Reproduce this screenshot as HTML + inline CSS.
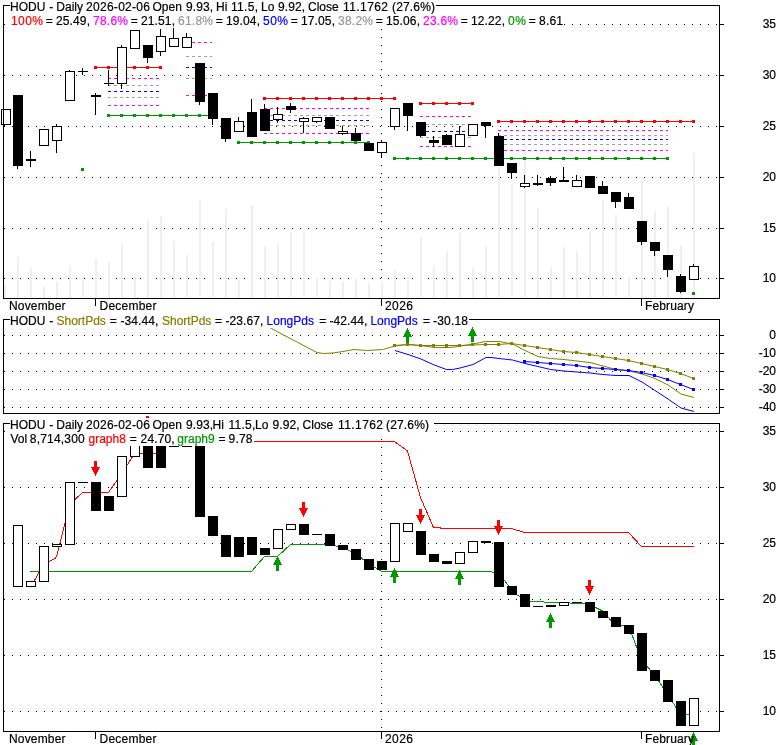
<!DOCTYPE html>
<html><head><meta charset="utf-8"><title>HODU chart</title>
<style>html,body{margin:0;padding:0;background:#fff;}svg{display:block;}text{font-family:"Liberation Sans",Arial,sans-serif;font-size:12px;stroke-width:0.2px;}</style>
</head><body>
<svg width="780" height="745" viewBox="0 0 780 745" shape-rendering="crispEdges">
<rect x="0" y="0" width="780" height="745" fill="#fff"/>
<g id="top">
<line x1="4" y1="24.5" x2="719" y2="24.5" stroke="#000" stroke-dasharray="1 7"/>
<rect x="720" y="24" width="4" height="1" fill="#000"/>
<line x1="4" y1="75.5" x2="719" y2="75.5" stroke="#000" stroke-dasharray="1 7"/>
<rect x="720" y="75" width="4" height="1" fill="#000"/>
<line x1="4" y1="126.5" x2="719" y2="126.5" stroke="#000" stroke-dasharray="1 7"/>
<rect x="720" y="126" width="4" height="1" fill="#000"/>
<line x1="4" y1="177.5" x2="719" y2="177.5" stroke="#000" stroke-dasharray="1 7"/>
<rect x="720" y="177" width="4" height="1" fill="#000"/>
<line x1="4" y1="228.5" x2="719" y2="228.5" stroke="#000" stroke-dasharray="1 7"/>
<rect x="720" y="228" width="4" height="1" fill="#000"/>
<line x1="4" y1="278.5" x2="719" y2="278.5" stroke="#000" stroke-dasharray="1 7"/>
<rect x="720" y="278" width="4" height="1" fill="#000"/>
<line x1="381.5" y1="5" x2="381.5" y2="298" stroke="#000" stroke-dasharray="1 7"/>
<rect x="4" y="285" width="2" height="13" fill="#efefef"/>
<rect x="17" y="257" width="2" height="41" fill="#efefef"/>
<rect x="30" y="268" width="2" height="30" fill="#efefef"/>
<rect x="43" y="286" width="2" height="12" fill="#efefef"/>
<rect x="56" y="282" width="2" height="16" fill="#efefef"/>
<rect x="69" y="266" width="2" height="32" fill="#efefef"/>
<rect x="82" y="277" width="2" height="21" fill="#efefef"/>
<rect x="95" y="259" width="2" height="39" fill="#efefef"/>
<rect x="108" y="262" width="2" height="36" fill="#efefef"/>
<rect x="121" y="244" width="2" height="54" fill="#efefef"/>
<rect x="134" y="273" width="2" height="25" fill="#efefef"/>
<rect x="147" y="219" width="2" height="79" fill="#efefef"/>
<rect x="160" y="216" width="2" height="82" fill="#efefef"/>
<rect x="173" y="241" width="2" height="57" fill="#efefef"/>
<rect x="186" y="255" width="2" height="43" fill="#efefef"/>
<rect x="199" y="200" width="2" height="98" fill="#efefef"/>
<rect x="212" y="242" width="2" height="56" fill="#efefef"/>
<rect x="225" y="209" width="2" height="89" fill="#efefef"/>
<rect x="238" y="280" width="2" height="18" fill="#efefef"/>
<rect x="251" y="205" width="2" height="93" fill="#efefef"/>
<rect x="264" y="246" width="2" height="52" fill="#efefef"/>
<rect x="277" y="244" width="2" height="54" fill="#efefef"/>
<rect x="290" y="232" width="2" height="66" fill="#efefef"/>
<rect x="303" y="232" width="2" height="66" fill="#efefef"/>
<rect x="316" y="278" width="2" height="20" fill="#efefef"/>
<rect x="329" y="281" width="2" height="17" fill="#efefef"/>
<rect x="342" y="282" width="2" height="16" fill="#efefef"/>
<rect x="355" y="278" width="2" height="20" fill="#efefef"/>
<rect x="368" y="283" width="2" height="15" fill="#efefef"/>
<rect x="381" y="282" width="2" height="16" fill="#efefef"/>
<rect x="394" y="270" width="2" height="28" fill="#efefef"/>
<rect x="407" y="276" width="2" height="22" fill="#efefef"/>
<rect x="420" y="237" width="2" height="61" fill="#efefef"/>
<rect x="433" y="266" width="2" height="32" fill="#efefef"/>
<rect x="446" y="251" width="2" height="47" fill="#efefef"/>
<rect x="459" y="233" width="2" height="65" fill="#efefef"/>
<rect x="472" y="268" width="2" height="30" fill="#efefef"/>
<rect x="485" y="245" width="2" height="53" fill="#efefef"/>
<rect x="498" y="132" width="2" height="166" fill="#efefef"/>
<rect x="511" y="184" width="2" height="114" fill="#efefef"/>
<rect x="524" y="146" width="2" height="152" fill="#efefef"/>
<rect x="537" y="208" width="2" height="90" fill="#efefef"/>
<rect x="550" y="267" width="2" height="31" fill="#efefef"/>
<rect x="563" y="247" width="2" height="51" fill="#efefef"/>
<rect x="576" y="251" width="2" height="47" fill="#efefef"/>
<rect x="589" y="232" width="2" height="66" fill="#efefef"/>
<rect x="602" y="200" width="2" height="98" fill="#efefef"/>
<rect x="615" y="215" width="2" height="83" fill="#efefef"/>
<rect x="628" y="277" width="2" height="21" fill="#efefef"/>
<rect x="641" y="180" width="2" height="118" fill="#efefef"/>
<rect x="654" y="211" width="2" height="87" fill="#efefef"/>
<rect x="667" y="206" width="2" height="92" fill="#efefef"/>
<rect x="680" y="245" width="2" height="53" fill="#efefef"/>
<rect x="693" y="153" width="2" height="145" fill="#efefef"/>
<line x1="95" y1="67.5" x2="161" y2="67.5" stroke="#ff0000"/>
<rect x="94" y="66" width="3" height="3" fill="#ff0000"/>
<rect x="107" y="66" width="3" height="3" fill="#ff0000"/>
<rect x="120" y="66" width="3" height="3" fill="#ff0000"/>
<rect x="133" y="66" width="3" height="3" fill="#ff0000"/>
<rect x="146" y="66" width="3" height="3" fill="#ff0000"/>
<rect x="159" y="66" width="3" height="3" fill="#ff0000"/>
<line x1="108" y1="115.5" x2="213" y2="115.5" stroke="#009900"/>
<rect x="107" y="114" width="3" height="3" fill="#009900"/>
<rect x="120" y="114" width="3" height="3" fill="#009900"/>
<rect x="133" y="114" width="3" height="3" fill="#009900"/>
<rect x="146" y="114" width="3" height="3" fill="#009900"/>
<rect x="159" y="114" width="3" height="3" fill="#009900"/>
<rect x="172" y="114" width="3" height="3" fill="#009900"/>
<rect x="185" y="114" width="3" height="3" fill="#009900"/>
<rect x="198" y="114" width="3" height="3" fill="#009900"/>
<rect x="211" y="114" width="3" height="3" fill="#009900"/>
<line x1="108" y1="78.5" x2="160" y2="78.5" stroke="#ff00ff" stroke-dasharray="3 3" stroke-dashoffset="0"/>
<line x1="108" y1="85.5" x2="160" y2="85.5" stroke="#a0a0a0" stroke-dasharray="3 3" stroke-dashoffset="0"/>
<line x1="108" y1="91.5" x2="160" y2="91.5" stroke="#0000ff" stroke-dasharray="3 3" stroke-dashoffset="0"/>
<line x1="108" y1="97.5" x2="160" y2="97.5" stroke="#a0a0a0" stroke-dasharray="3 3" stroke-dashoffset="0"/>
<line x1="108" y1="105.5" x2="160" y2="105.5" stroke="#ff00ff" stroke-dasharray="3 3" stroke-dashoffset="0"/>
<line x1="186" y1="42.5" x2="212" y2="42.5" stroke="#ff00ff" stroke-dasharray="3 3" stroke-dashoffset="0"/>
<line x1="186" y1="56.5" x2="212" y2="56.5" stroke="#a0a0a0" stroke-dasharray="3 3" stroke-dashoffset="0"/>
<line x1="186" y1="67.5" x2="212" y2="67.5" stroke="#0000ff" stroke-dasharray="3 3" stroke-dashoffset="0"/>
<line x1="186" y1="78.5" x2="212" y2="78.5" stroke="#a0a0a0" stroke-dasharray="3 3" stroke-dashoffset="0"/>
<line x1="186" y1="95.5" x2="212" y2="95.5" stroke="#ff00ff" stroke-dasharray="3 3" stroke-dashoffset="0"/>
<line x1="264" y1="98.5" x2="395" y2="98.5" stroke="#ff0000"/>
<rect x="263" y="97" width="3" height="3" fill="#ff0000"/>
<rect x="276" y="97" width="3" height="3" fill="#ff0000"/>
<rect x="289" y="97" width="3" height="3" fill="#ff0000"/>
<rect x="302" y="97" width="3" height="3" fill="#ff0000"/>
<rect x="315" y="97" width="3" height="3" fill="#ff0000"/>
<rect x="328" y="97" width="3" height="3" fill="#ff0000"/>
<rect x="341" y="97" width="3" height="3" fill="#ff0000"/>
<rect x="354" y="97" width="3" height="3" fill="#ff0000"/>
<rect x="367" y="97" width="3" height="3" fill="#ff0000"/>
<rect x="380" y="97" width="3" height="3" fill="#ff0000"/>
<rect x="393" y="97" width="3" height="3" fill="#ff0000"/>
<line x1="238" y1="142.5" x2="369" y2="142.5" stroke="#009900"/>
<rect x="237" y="141" width="3" height="3" fill="#009900"/>
<rect x="250" y="141" width="3" height="3" fill="#009900"/>
<rect x="263" y="141" width="3" height="3" fill="#009900"/>
<rect x="276" y="141" width="3" height="3" fill="#009900"/>
<rect x="289" y="141" width="3" height="3" fill="#009900"/>
<rect x="302" y="141" width="3" height="3" fill="#009900"/>
<rect x="315" y="141" width="3" height="3" fill="#009900"/>
<rect x="328" y="141" width="3" height="3" fill="#009900"/>
<rect x="341" y="141" width="3" height="3" fill="#009900"/>
<rect x="354" y="141" width="3" height="3" fill="#009900"/>
<rect x="367" y="141" width="3" height="3" fill="#009900"/>
<line x1="264" y1="108.5" x2="369" y2="108.5" stroke="#ff00ff" stroke-dasharray="3 3" stroke-dashoffset="0"/>
<line x1="264" y1="115.5" x2="369" y2="115.5" stroke="#a0a0a0" stroke-dasharray="3 3" stroke-dashoffset="0"/>
<line x1="264" y1="120.5" x2="369" y2="120.5" stroke="#0000ff" stroke-dasharray="3 3" stroke-dashoffset="0"/>
<line x1="264" y1="125.5" x2="369" y2="125.5" stroke="#a0a0a0" stroke-dasharray="3 3" stroke-dashoffset="0"/>
<line x1="264" y1="133.5" x2="369" y2="133.5" stroke="#ff00ff" stroke-dasharray="3 3" stroke-dashoffset="0"/>
<line x1="420" y1="103.5" x2="473" y2="103.5" stroke="#ff0000"/>
<rect x="419" y="102" width="3" height="3" fill="#ff0000"/>
<rect x="432" y="102" width="3" height="3" fill="#ff0000"/>
<rect x="445" y="102" width="3" height="3" fill="#ff0000"/>
<rect x="458" y="102" width="3" height="3" fill="#ff0000"/>
<rect x="471" y="102" width="3" height="3" fill="#ff0000"/>
<line x1="394" y1="158.5" x2="668" y2="158.5" stroke="#009900"/>
<rect x="393" y="157" width="3" height="3" fill="#009900"/>
<rect x="406" y="157" width="3" height="3" fill="#009900"/>
<rect x="419" y="157" width="3" height="3" fill="#009900"/>
<rect x="432" y="157" width="3" height="3" fill="#009900"/>
<rect x="445" y="157" width="3" height="3" fill="#009900"/>
<rect x="458" y="157" width="3" height="3" fill="#009900"/>
<rect x="471" y="157" width="3" height="3" fill="#009900"/>
<rect x="484" y="157" width="3" height="3" fill="#009900"/>
<rect x="497" y="157" width="3" height="3" fill="#009900"/>
<rect x="510" y="157" width="3" height="3" fill="#009900"/>
<rect x="523" y="157" width="3" height="3" fill="#009900"/>
<rect x="536" y="157" width="3" height="3" fill="#009900"/>
<rect x="549" y="157" width="3" height="3" fill="#009900"/>
<rect x="562" y="157" width="3" height="3" fill="#009900"/>
<rect x="575" y="157" width="3" height="3" fill="#009900"/>
<rect x="588" y="157" width="3" height="3" fill="#009900"/>
<rect x="601" y="157" width="3" height="3" fill="#009900"/>
<rect x="614" y="157" width="3" height="3" fill="#009900"/>
<rect x="627" y="157" width="3" height="3" fill="#009900"/>
<rect x="640" y="157" width="3" height="3" fill="#009900"/>
<rect x="653" y="157" width="3" height="3" fill="#009900"/>
<rect x="666" y="157" width="3" height="3" fill="#009900"/>
<line x1="420" y1="116.5" x2="472" y2="116.5" stroke="#ff00ff" stroke-dasharray="3 3" stroke-dashoffset="0"/>
<line x1="420" y1="124.5" x2="472" y2="124.5" stroke="#a0a0a0" stroke-dasharray="3 3" stroke-dashoffset="0"/>
<line x1="420" y1="131.5" x2="472" y2="131.5" stroke="#0000ff" stroke-dasharray="3 3" stroke-dashoffset="0"/>
<line x1="420" y1="137.5" x2="472" y2="137.5" stroke="#a0a0a0" stroke-dasharray="3 3" stroke-dashoffset="0"/>
<line x1="420" y1="146.5" x2="472" y2="146.5" stroke="#ff00ff" stroke-dasharray="3 3" stroke-dashoffset="0"/>
<line x1="498" y1="121.5" x2="694" y2="121.5" stroke="#ff0000"/>
<rect x="497" y="120" width="3" height="3" fill="#ff0000"/>
<rect x="510" y="120" width="3" height="3" fill="#ff0000"/>
<rect x="523" y="120" width="3" height="3" fill="#ff0000"/>
<rect x="536" y="120" width="3" height="3" fill="#ff0000"/>
<rect x="549" y="120" width="3" height="3" fill="#ff0000"/>
<rect x="562" y="120" width="3" height="3" fill="#ff0000"/>
<rect x="575" y="120" width="3" height="3" fill="#ff0000"/>
<rect x="588" y="120" width="3" height="3" fill="#ff0000"/>
<rect x="601" y="120" width="3" height="3" fill="#ff0000"/>
<rect x="614" y="120" width="3" height="3" fill="#ff0000"/>
<rect x="627" y="120" width="3" height="3" fill="#ff0000"/>
<rect x="640" y="120" width="3" height="3" fill="#ff0000"/>
<rect x="653" y="120" width="3" height="3" fill="#ff0000"/>
<rect x="666" y="120" width="3" height="3" fill="#ff0000"/>
<rect x="679" y="120" width="3" height="3" fill="#ff0000"/>
<rect x="692" y="120" width="3" height="3" fill="#ff0000"/>
<line x1="498" y1="130.5" x2="668" y2="130.5" stroke="#ff00ff" stroke-dasharray="3 3" stroke-dashoffset="0"/>
<line x1="498" y1="135.5" x2="668" y2="135.5" stroke="#a0a0a0" stroke-dasharray="3 3" stroke-dashoffset="0"/>
<line x1="498" y1="139.5" x2="668" y2="139.5" stroke="#0000ff" stroke-dasharray="3 3" stroke-dashoffset="0"/>
<line x1="498" y1="144.5" x2="668" y2="144.5" stroke="#a0a0a0" stroke-dasharray="3 3" stroke-dashoffset="0"/>
<line x1="498" y1="150.5" x2="668" y2="150.5" stroke="#ff00ff" stroke-dasharray="3 3" stroke-dashoffset="0"/>
<rect x="81" y="168" width="3" height="3" fill="#009900"/>
<rect x="692" y="292" width="3" height="3" fill="#009900"/>
<rect x="4" y="125" width="1" height="2" fill="#000"/>
<rect x="1.5" y="109.5" width="9" height="15" fill="#fff" stroke="#000"/>
<rect x="17" y="166" width="1" height="3" fill="#000"/>
<rect x="13" y="95" width="10" height="71" fill="#000"/>
<rect x="30" y="151" width="1" height="8" fill="#000"/>
<rect x="30" y="161" width="1" height="6" fill="#000"/>
<rect x="26" y="159" width="10" height="2" fill="#000"/>
<rect x="39.5" y="129.5" width="9" height="16" fill="#fff" stroke="#000"/>
<rect x="56" y="124" width="1" height="2" fill="#000"/>
<rect x="56" y="141" width="1" height="12" fill="#000"/>
<rect x="52.5" y="126.5" width="9" height="14" fill="#fff" stroke="#000"/>
<rect x="69" y="70" width="1" height="1" fill="#000"/>
<rect x="65.5" y="71.5" width="9" height="29" fill="#fff" stroke="#000"/>
<rect x="82" y="68" width="1" height="3" fill="#000"/>
<rect x="82" y="72" width="1" height="3" fill="#000"/>
<rect x="78" y="71" width="10" height="1" fill="#000"/>
<rect x="95" y="93" width="1" height="2" fill="#000"/>
<rect x="95" y="97" width="1" height="18" fill="#000"/>
<rect x="91" y="95" width="10" height="2" fill="#000"/>
<rect x="108" y="70" width="1" height="13" fill="#000"/>
<rect x="108" y="84" width="1" height="2" fill="#000"/>
<rect x="104" y="83" width="10" height="1" fill="#000"/>
<rect x="121" y="45" width="1" height="2" fill="#000"/>
<rect x="121" y="84" width="1" height="5" fill="#000"/>
<rect x="117.5" y="47.5" width="9" height="36" fill="#fff" stroke="#000"/>
<rect x="130.5" y="30.5" width="9" height="18" fill="#fff" stroke="#000"/>
<rect x="147" y="58" width="1" height="5" fill="#000"/>
<rect x="143" y="45" width="10" height="13" fill="#000"/>
<rect x="160" y="29" width="1" height="7" fill="#000"/>
<rect x="160" y="52" width="1" height="4" fill="#000"/>
<rect x="156.5" y="36.5" width="9" height="15" fill="#fff" stroke="#000"/>
<rect x="173" y="28" width="1" height="10" fill="#000"/>
<rect x="169.5" y="38.5" width="9" height="8" fill="#fff" stroke="#000"/>
<rect x="186" y="33" width="1" height="4" fill="#000"/>
<rect x="182.5" y="37.5" width="9" height="10" fill="#fff" stroke="#000"/>
<rect x="199" y="102" width="1" height="3" fill="#000"/>
<rect x="195" y="63" width="10" height="39" fill="#000"/>
<rect x="212" y="119" width="1" height="6" fill="#000"/>
<rect x="208" y="93" width="10" height="26" fill="#000"/>
<rect x="225" y="139" width="1" height="3" fill="#000"/>
<rect x="221" y="118" width="10" height="21" fill="#000"/>
<rect x="238" y="117" width="1" height="4" fill="#000"/>
<rect x="234.5" y="121.5" width="9" height="10" fill="#fff" stroke="#000"/>
<rect x="251" y="99" width="1" height="13" fill="#000"/>
<rect x="247" y="112" width="10" height="25" fill="#000"/>
<rect x="264" y="104" width="1" height="5" fill="#000"/>
<rect x="260" y="109" width="10" height="22" fill="#000"/>
<rect x="277" y="107" width="1" height="7" fill="#000"/>
<rect x="277" y="120" width="1" height="3" fill="#000"/>
<rect x="273.5" y="114.5" width="9" height="5" fill="#fff" stroke="#000"/>
<rect x="290" y="103" width="1" height="3" fill="#000"/>
<rect x="290" y="110" width="1" height="3" fill="#000"/>
<rect x="286" y="106" width="10" height="4" fill="#000"/>
<rect x="303" y="117" width="1" height="1" fill="#000"/>
<rect x="303" y="122" width="1" height="11" fill="#000"/>
<rect x="299.5" y="118.5" width="9" height="3" fill="#fff" stroke="#000"/>
<rect x="316" y="122" width="1" height="1" fill="#000"/>
<rect x="312.5" y="117.5" width="9" height="4" fill="#fff" stroke="#000"/>
<rect x="325" y="117" width="10" height="12" fill="#000"/>
<rect x="342" y="126" width="1" height="5" fill="#000"/>
<rect x="342" y="134" width="1" height="1" fill="#000"/>
<rect x="338.5" y="131.5" width="9" height="2" fill="#fff" stroke="#000"/>
<rect x="355" y="128" width="1" height="5" fill="#000"/>
<rect x="351" y="133" width="10" height="8" fill="#000"/>
<rect x="364" y="143" width="10" height="8" fill="#000"/>
<rect x="381" y="140" width="1" height="2" fill="#000"/>
<rect x="381" y="153" width="1" height="5" fill="#000"/>
<rect x="377.5" y="142.5" width="9" height="10" fill="#fff" stroke="#000"/>
<rect x="394" y="127" width="1" height="3" fill="#000"/>
<rect x="390.5" y="108.5" width="9" height="18" fill="#fff" stroke="#000"/>
<rect x="407" y="116" width="1" height="15" fill="#000"/>
<rect x="403" y="103" width="10" height="13" fill="#000"/>
<rect x="420" y="136" width="1" height="1" fill="#000"/>
<rect x="416" y="122" width="10" height="14" fill="#000"/>
<rect x="433" y="136" width="1" height="4" fill="#000"/>
<rect x="433" y="143" width="1" height="4" fill="#000"/>
<rect x="429" y="140" width="10" height="3" fill="#000"/>
<rect x="446" y="134" width="1" height="1" fill="#000"/>
<rect x="442" y="135" width="10" height="10" fill="#000"/>
<rect x="459" y="126" width="1" height="8" fill="#000"/>
<rect x="455.5" y="134.5" width="9" height="12" fill="#fff" stroke="#000"/>
<rect x="468.5" y="124.5" width="9" height="11" fill="#fff" stroke="#000"/>
<rect x="485" y="126" width="1" height="12" fill="#000"/>
<rect x="481" y="122" width="10" height="4" fill="#000"/>
<rect x="498" y="133" width="1" height="3" fill="#000"/>
<rect x="494" y="136" width="10" height="30" fill="#000"/>
<rect x="511" y="173" width="1" height="6" fill="#000"/>
<rect x="507" y="163" width="10" height="10" fill="#000"/>
<rect x="524" y="175" width="1" height="8" fill="#000"/>
<rect x="524" y="187" width="1" height="1" fill="#000"/>
<rect x="520.5" y="183.5" width="9" height="3" fill="#fff" stroke="#000"/>
<rect x="537" y="175" width="1" height="8" fill="#000"/>
<rect x="537" y="185" width="1" height="1" fill="#000"/>
<rect x="533" y="183" width="10" height="2" fill="#000"/>
<rect x="550" y="176" width="1" height="2" fill="#000"/>
<rect x="550" y="183" width="1" height="3" fill="#000"/>
<rect x="546" y="178" width="10" height="5" fill="#000"/>
<rect x="563" y="167" width="1" height="13" fill="#000"/>
<rect x="559" y="180" width="10" height="2" fill="#000"/>
<rect x="576" y="175" width="1" height="5" fill="#000"/>
<rect x="572.5" y="180.5" width="9" height="6" fill="#fff" stroke="#000"/>
<rect x="585" y="176" width="10" height="12" fill="#000"/>
<rect x="602" y="181" width="1" height="5" fill="#000"/>
<rect x="598" y="186" width="10" height="8" fill="#000"/>
<rect x="615" y="202" width="1" height="6" fill="#000"/>
<rect x="611" y="192" width="10" height="10" fill="#000"/>
<rect x="628" y="193" width="1" height="4" fill="#000"/>
<rect x="624" y="197" width="10" height="12" fill="#000"/>
<rect x="641" y="242" width="1" height="3" fill="#000"/>
<rect x="637" y="221" width="10" height="21" fill="#000"/>
<rect x="654" y="251" width="1" height="5" fill="#000"/>
<rect x="650" y="242" width="10" height="9" fill="#000"/>
<rect x="667" y="270" width="1" height="7" fill="#000"/>
<rect x="663" y="255" width="10" height="15" fill="#000"/>
<rect x="680" y="274" width="1" height="2" fill="#000"/>
<rect x="680" y="292" width="1" height="1" fill="#000"/>
<rect x="676" y="276" width="10" height="16" fill="#000"/>
<rect x="693" y="264" width="1" height="2" fill="#000"/>
<rect x="689.5" y="266.5" width="9" height="13" fill="#fff" stroke="#000"/>
<path d="M3.5 5.5 H719.5 V298.5 H3.5 Z" fill="none" stroke="#000"/>
<rect x="95" y="298" width="1" height="8" fill="#000"/>
<rect x="381" y="298" width="1" height="8" fill="#000"/>
<rect x="641" y="298" width="1" height="8" fill="#000"/>
</g>
<g id="mid">
<line x1="4" y1="335.5" x2="719" y2="335.5" stroke="#000" stroke-dasharray="1 7"/>
<rect x="720" y="335" width="4" height="1" fill="#000"/>
<line x1="4" y1="353.5" x2="719" y2="353.5" stroke="#000" stroke-dasharray="1 7"/>
<rect x="720" y="353" width="4" height="1" fill="#000"/>
<line x1="4" y1="371.5" x2="719" y2="371.5" stroke="#000" stroke-dasharray="1 7"/>
<rect x="720" y="371" width="4" height="1" fill="#000"/>
<line x1="4" y1="389.5" x2="719" y2="389.5" stroke="#000" stroke-dasharray="1 7"/>
<rect x="720" y="389" width="4" height="1" fill="#000"/>
<line x1="4" y1="407.5" x2="719" y2="407.5" stroke="#000" stroke-dasharray="1 7"/>
<rect x="720" y="407" width="4" height="1" fill="#000"/>
<polyline points="265,325 271.5,328.5 284.5,335.5 317,352.5 323.5,353.5 332.5,353 343,351.5 354,349.5 367.5,350.5 382.5,349.5 395,346 407.5,344.5 420,345.5 435,347.5 447,347.5 455,347 473,344 485.5,341.5 499,341.5 512.5,344 525,350.5 538,356.5 550.5,358.5 564,359.5 577,361 590,362.5 603,366 616,369.5 629,371 642,374 655,378.5 668,385 681,394 694,397.5" fill="none" stroke="#808000" stroke-width="1" shape-rendering="geometricPrecision"/>
<polyline points="394.5,345.5 407.5,344.5 420.5,345.5 433.5,345.5 446.5,345.5 459.5,345.5 472.5,345 485.5,344.5 498.5,344.5 511.5,343.5 524.5,345.5 537.5,347.5 550.5,349.5 563.5,351.5 576.5,352.5 589.5,354.5 602.5,356.5 615.5,358.5 628.5,360.5 641.5,363.5 654.5,366.5 667.5,369.5 680.5,373.5 693.5,378.5" fill="none" stroke="#808000" stroke-width="1" shape-rendering="geometricPrecision"/>
<rect x="393" y="344" width="3" height="3" fill="#808000"/>
<rect x="406" y="343" width="3" height="3" fill="#808000"/>
<rect x="419" y="344" width="3" height="3" fill="#808000"/>
<rect x="432" y="344" width="3" height="3" fill="#808000"/>
<rect x="445" y="344" width="3" height="3" fill="#808000"/>
<rect x="458" y="344" width="3" height="3" fill="#808000"/>
<rect x="471" y="343" width="3" height="3" fill="#808000"/>
<rect x="484" y="343" width="3" height="3" fill="#808000"/>
<rect x="497" y="343" width="3" height="3" fill="#808000"/>
<rect x="510" y="342" width="3" height="3" fill="#808000"/>
<rect x="523" y="344" width="3" height="3" fill="#808000"/>
<rect x="536" y="346" width="3" height="3" fill="#808000"/>
<rect x="549" y="348" width="3" height="3" fill="#808000"/>
<rect x="562" y="350" width="3" height="3" fill="#808000"/>
<rect x="575" y="351" width="3" height="3" fill="#808000"/>
<rect x="588" y="353" width="3" height="3" fill="#808000"/>
<rect x="601" y="355" width="3" height="3" fill="#808000"/>
<rect x="614" y="357" width="3" height="3" fill="#808000"/>
<rect x="627" y="359" width="3" height="3" fill="#808000"/>
<rect x="640" y="362" width="3" height="3" fill="#808000"/>
<rect x="653" y="365" width="3" height="3" fill="#808000"/>
<rect x="666" y="368" width="3" height="3" fill="#808000"/>
<rect x="679" y="372" width="3" height="3" fill="#808000"/>
<rect x="692" y="377" width="3" height="3" fill="#808000"/>
<polyline points="395,350.5 408,354.5 421,359 433,364.5 446.5,369.5 452.5,369.5 460,368 473,364.5 486,357.5 491,357.5 499,358.5 512.5,360 525,363.5 538,366.5 550.5,369.5 564,371 577,372 590,373 603,374.5 616,375.5 629,375.5 642,382 655,390.5 668,399 681,408 694,411.5" fill="none" stroke="#0000ff" stroke-width="1" shape-rendering="geometricPrecision"/>
<polyline points="524.5,361.5 537.5,362.5 550.5,363.5 563.5,364.5 576.5,365.5 589.5,367.5 602.5,368.5 615.5,369.5 628.5,370.5 641.5,372.5 654.5,375.5 667.5,379.5 680.5,384.5 693.5,389.5" fill="none" stroke="#0000ff" stroke-width="1" shape-rendering="geometricPrecision"/>
<rect x="523" y="360" width="3" height="3" fill="#0000ff"/>
<rect x="536" y="361" width="3" height="3" fill="#0000ff"/>
<rect x="549" y="362" width="3" height="3" fill="#0000ff"/>
<rect x="562" y="363" width="3" height="3" fill="#0000ff"/>
<rect x="575" y="364" width="3" height="3" fill="#0000ff"/>
<rect x="588" y="366" width="3" height="3" fill="#0000ff"/>
<rect x="601" y="367" width="3" height="3" fill="#0000ff"/>
<rect x="614" y="368" width="3" height="3" fill="#0000ff"/>
<rect x="627" y="369" width="3" height="3" fill="#0000ff"/>
<rect x="640" y="371" width="3" height="3" fill="#0000ff"/>
<rect x="653" y="374" width="3" height="3" fill="#0000ff"/>
<rect x="666" y="378" width="3" height="3" fill="#0000ff"/>
<rect x="679" y="383" width="3" height="3" fill="#0000ff"/>
<rect x="692" y="388" width="3" height="3" fill="#0000ff"/>
<rect x="407" y="328" width="1" height="2" fill="#009900"/>
<rect x="406" y="330" width="3" height="2" fill="#009900"/>
<rect x="405" y="332" width="5" height="2" fill="#009900"/>
<rect x="404" y="334" width="7" height="2" fill="#009900"/>
<rect x="403" y="336" width="9" height="1" fill="#009900"/>
<rect x="406" y="337" width="3" height="6" fill="#009900"/>
<rect x="472" y="327" width="1" height="2" fill="#009900"/>
<rect x="471" y="329" width="3" height="2" fill="#009900"/>
<rect x="470" y="331" width="5" height="2" fill="#009900"/>
<rect x="469" y="333" width="7" height="2" fill="#009900"/>
<rect x="468" y="335" width="9" height="1" fill="#009900"/>
<rect x="471" y="336" width="3" height="6" fill="#009900"/>
<path d="M3.5 319.5 H719.5 V413.5 H3.5 Z" fill="none" stroke="#000"/>
</g>
<g id="bot">
<line x1="4" y1="431.5" x2="719" y2="431.5" stroke="#000" stroke-dasharray="1 7"/>
<rect x="720" y="431" width="4" height="1" fill="#000"/>
<line x1="4" y1="487.5" x2="719" y2="487.5" stroke="#000" stroke-dasharray="1 7"/>
<rect x="720" y="487" width="4" height="1" fill="#000"/>
<line x1="4" y1="543.5" x2="719" y2="543.5" stroke="#000" stroke-dasharray="1 7"/>
<rect x="720" y="543" width="4" height="1" fill="#000"/>
<line x1="4" y1="599.5" x2="719" y2="599.5" stroke="#000" stroke-dasharray="1 7"/>
<rect x="720" y="599" width="4" height="1" fill="#000"/>
<line x1="4" y1="655.5" x2="719" y2="655.5" stroke="#000" stroke-dasharray="1 7"/>
<rect x="720" y="655" width="4" height="1" fill="#000"/>
<line x1="4" y1="711.5" x2="719" y2="711.5" stroke="#000" stroke-dasharray="1 7"/>
<rect x="720" y="711" width="4" height="1" fill="#000"/>
<line x1="381.5" y1="423" x2="381.5" y2="731" stroke="#000" stroke-dasharray="1 7"/>
<polyline points="30,571.5 251.5,571.5 264.5,556.5 277.5,556.5 290.5,544.5 329.5,544.5 342.5,547.5 355.5,553.5 368.5,563.5 381.5,571.5 491.5,571.5 494,573 504,580 508.5,585.5 512,590 517,595 520,596.5 525,599 530,601.5 543.5,601.5 545,602.5 569.5,602.5 570.5,603.5 581.5,603.5 589.5,604.5 602.5,611 615.5,625.5 628.5,625.5 641.5,660 654.5,675 667.5,694 680.5,714.5 693.5,714.5" fill="none" stroke="#009900" stroke-width="1"/>
<polyline points="30.5,587.5 43.5,564.5 56.5,557.5 69.5,504.5 82.5,492.5 108.5,492.5 121.5,474 134.5,453.5 160.5,453.5 166,446 173.5,441.5 394.5,441.5 407.5,451 420.5,497.5 433.5,527.5 440,527.5 441,528.5 511.5,528.5 524.5,532.5 628.5,532.5 641.5,546.5 693.5,546.5" fill="none" stroke="#ff0000" stroke-width="1"/>
<rect x="13.5" y="525.5" width="9" height="61" fill="#fff" stroke="#000"/>
<rect x="26.5" y="581.5" width="9" height="5" fill="#fff" stroke="#000"/>
<rect x="39.5" y="546.5" width="9" height="35" fill="#fff" stroke="#000"/>
<rect x="52.5" y="544.5" width="9" height="2" fill="#fff" stroke="#000"/>
<rect x="65.5" y="482.5" width="9" height="62" fill="#fff" stroke="#000"/>
<rect x="78" y="482" width="10" height="1" fill="#000"/>
<rect x="91" y="482" width="10" height="29" fill="#000"/>
<rect x="104" y="496" width="10" height="15" fill="#000"/>
<rect x="117.5" y="456.5" width="9" height="40" fill="#fff" stroke="#000"/>
<rect x="130.5" y="430.5" width="9" height="26" fill="#fff" stroke="#000"/>
<rect x="143" y="430" width="10" height="38" fill="#000"/>
<rect x="156" y="430" width="10" height="38" fill="#000"/>
<rect x="169" y="446" width="10" height="1" fill="#000"/>
<rect x="182" y="446" width="10" height="1" fill="#000"/>
<rect x="195" y="440" width="10" height="77" fill="#000"/>
<rect x="208" y="516" width="10" height="20" fill="#000"/>
<rect x="221" y="535" width="10" height="22" fill="#000"/>
<rect x="234" y="537" width="10" height="20" fill="#000"/>
<rect x="247" y="537" width="10" height="18" fill="#000"/>
<rect x="260" y="548" width="10" height="7" fill="#000"/>
<rect x="273.5" y="529.5" width="9" height="19" fill="#fff" stroke="#000"/>
<rect x="286.5" y="524.5" width="9" height="5" fill="#fff" stroke="#000"/>
<rect x="299" y="524" width="10" height="11" fill="#000"/>
<rect x="312" y="534" width="10" height="1" fill="#000"/>
<rect x="325" y="534" width="10" height="12" fill="#000"/>
<rect x="338" y="545" width="10" height="5" fill="#000"/>
<rect x="351" y="549" width="10" height="11" fill="#000"/>
<rect x="364" y="559" width="10" height="11" fill="#000"/>
<rect x="377" y="561" width="10" height="9" fill="#000"/>
<rect x="390.5" y="523.5" width="9" height="38" fill="#fff" stroke="#000"/>
<rect x="403.5" y="523.5" width="9" height="8" fill="#fff" stroke="#000"/>
<rect x="416" y="531" width="10" height="24" fill="#000"/>
<rect x="429" y="554" width="10" height="8" fill="#000"/>
<rect x="442" y="561" width="10" height="3" fill="#000"/>
<rect x="455.5" y="552.5" width="9" height="11" fill="#fff" stroke="#000"/>
<rect x="468.5" y="541.5" width="9" height="11" fill="#fff" stroke="#000"/>
<rect x="481" y="541" width="10" height="2" fill="#000"/>
<rect x="494" y="542" width="10" height="45" fill="#000"/>
<rect x="507" y="586" width="10" height="9" fill="#000"/>
<rect x="520" y="594" width="10" height="13" fill="#000"/>
<rect x="533" y="606" width="10" height="1" fill="#000"/>
<rect x="546" y="605" width="10" height="2" fill="#000"/>
<rect x="559.5" y="602.5" width="9" height="3" fill="#fff" stroke="#000"/>
<rect x="572" y="602" width="10" height="1" fill="#000"/>
<rect x="585" y="602" width="10" height="10" fill="#000"/>
<rect x="598" y="611" width="10" height="7" fill="#000"/>
<rect x="611" y="617" width="10" height="10" fill="#000"/>
<rect x="624" y="625" width="10" height="9" fill="#000"/>
<rect x="637" y="633" width="10" height="38" fill="#000"/>
<rect x="650" y="670" width="10" height="11" fill="#000"/>
<rect x="663" y="680" width="10" height="22" fill="#000"/>
<rect x="676" y="701" width="10" height="25" fill="#000"/>
<rect x="689.5" y="698.5" width="9" height="27" fill="#fff" stroke="#000"/>
<rect x="94" y="461" width="3" height="6" fill="#ff0000"/>
<rect x="91" y="467" width="9" height="1" fill="#ff0000"/>
<rect x="92" y="468" width="7" height="2" fill="#ff0000"/>
<rect x="93" y="470" width="5" height="2" fill="#ff0000"/>
<rect x="94" y="472" width="3" height="2" fill="#ff0000"/>
<rect x="95" y="474" width="1" height="2" fill="#ff0000"/>
<rect x="302" y="502" width="3" height="6" fill="#ff0000"/>
<rect x="299" y="508" width="9" height="1" fill="#ff0000"/>
<rect x="300" y="509" width="7" height="2" fill="#ff0000"/>
<rect x="301" y="511" width="5" height="2" fill="#ff0000"/>
<rect x="302" y="513" width="3" height="2" fill="#ff0000"/>
<rect x="303" y="515" width="1" height="2" fill="#ff0000"/>
<rect x="419" y="509" width="3" height="6" fill="#ff0000"/>
<rect x="416" y="515" width="9" height="1" fill="#ff0000"/>
<rect x="417" y="516" width="7" height="2" fill="#ff0000"/>
<rect x="418" y="518" width="5" height="2" fill="#ff0000"/>
<rect x="419" y="520" width="3" height="2" fill="#ff0000"/>
<rect x="420" y="522" width="1" height="2" fill="#ff0000"/>
<rect x="497" y="520" width="3" height="6" fill="#ff0000"/>
<rect x="494" y="526" width="9" height="1" fill="#ff0000"/>
<rect x="495" y="527" width="7" height="2" fill="#ff0000"/>
<rect x="496" y="529" width="5" height="2" fill="#ff0000"/>
<rect x="497" y="531" width="3" height="2" fill="#ff0000"/>
<rect x="498" y="533" width="1" height="2" fill="#ff0000"/>
<rect x="588" y="580" width="3" height="6" fill="#ff0000"/>
<rect x="585" y="586" width="9" height="1" fill="#ff0000"/>
<rect x="586" y="587" width="7" height="2" fill="#ff0000"/>
<rect x="587" y="589" width="5" height="2" fill="#ff0000"/>
<rect x="588" y="591" width="3" height="2" fill="#ff0000"/>
<rect x="589" y="593" width="1" height="2" fill="#ff0000"/>
<rect x="277" y="556" width="1" height="2" fill="#009900"/>
<rect x="276" y="558" width="3" height="2" fill="#009900"/>
<rect x="275" y="560" width="5" height="2" fill="#009900"/>
<rect x="274" y="562" width="7" height="2" fill="#009900"/>
<rect x="273" y="564" width="9" height="1" fill="#009900"/>
<rect x="276" y="565" width="3" height="6" fill="#009900"/>
<rect x="394" y="568" width="1" height="2" fill="#009900"/>
<rect x="393" y="570" width="3" height="2" fill="#009900"/>
<rect x="392" y="572" width="5" height="2" fill="#009900"/>
<rect x="391" y="574" width="7" height="2" fill="#009900"/>
<rect x="390" y="576" width="9" height="1" fill="#009900"/>
<rect x="393" y="577" width="3" height="6" fill="#009900"/>
<rect x="459" y="570" width="1" height="2" fill="#009900"/>
<rect x="458" y="572" width="3" height="2" fill="#009900"/>
<rect x="457" y="574" width="5" height="2" fill="#009900"/>
<rect x="456" y="576" width="7" height="2" fill="#009900"/>
<rect x="455" y="578" width="9" height="1" fill="#009900"/>
<rect x="458" y="579" width="3" height="6" fill="#009900"/>
<rect x="550" y="613" width="1" height="2" fill="#009900"/>
<rect x="549" y="615" width="3" height="2" fill="#009900"/>
<rect x="548" y="617" width="5" height="2" fill="#009900"/>
<rect x="547" y="619" width="7" height="2" fill="#009900"/>
<rect x="546" y="621" width="9" height="1" fill="#009900"/>
<rect x="549" y="622" width="3" height="6" fill="#009900"/>
<rect x="693" y="732" width="1" height="2" fill="#009900"/>
<rect x="692" y="734" width="3" height="2" fill="#009900"/>
<rect x="691" y="736" width="5" height="2" fill="#009900"/>
<rect x="690" y="738" width="7" height="2" fill="#009900"/>
<rect x="689" y="740" width="9" height="1" fill="#009900"/>
<rect x="692" y="741" width="3" height="6" fill="#009900"/>
<path d="M3.5 423.5 H719.5 V731.5 H3.5 Z" fill="none" stroke="#000"/>
<rect x="95" y="731" width="1" height="8" fill="#000"/>
<rect x="381" y="731" width="1" height="8" fill="#000"/>
<rect x="641" y="731" width="1" height="8" fill="#000"/>
</g>
<rect x="146" y="416" width="3" height="2" fill="#ff0000"/>
<g id="labels" shape-rendering="crispEdges">
<rect x="10" y="0" width="426" height="15" fill="#fff"/>
<rect x="10" y="14" width="553" height="14" fill="#fff"/>
<rect x="10" y="314" width="459" height="14" fill="#fff"/>
<rect x="10" y="418" width="424" height="15" fill="#fff"/>
<rect x="10" y="432" width="244" height="14" fill="#fff"/>
<text x="10" y="11" stroke="#000">HODU</text>
<text x="49.2" y="11" stroke="#000">-</text>
<text x="56.3" y="11" stroke="#000">Daily</text>
<text x="86" y="11" textLength="64" lengthAdjust="spacing" stroke="#000">2026-02-06</text>
<text x="152.5" y="11" stroke="#000">Open</text>
<text x="186" y="11" textLength="27" lengthAdjust="spacing" stroke="#000">9.93,</text>
<text x="216" y="11" stroke="#000">Hi</text>
<text x="231" y="11" textLength="27" lengthAdjust="spacing" stroke="#000">11.5,</text>
<text x="261" y="11" stroke="#000">Lo</text>
<text x="278" y="11" textLength="27" lengthAdjust="spacing" stroke="#000">9.92,</text>
<text x="308" y="11" stroke="#000">Close</text>
<text x="343" y="11" textLength="45" lengthAdjust="spacing" stroke="#000">11.1762</text>
<text x="392" y="11" textLength="43" lengthAdjust="spacing" stroke="#000">(27.6%)</text>
<text x="11" y="25" textLength="32" lengthAdjust="spacing" fill="#ff0000" stroke="#ff0000">100%</text>
<text x="45.7" y="25" stroke="#000">=</text>
<text x="56" y="25" textLength="34" lengthAdjust="spacing" stroke="#000">25.49,</text>
<text x="93" y="25" textLength="35" lengthAdjust="spacing" fill="#ff00ff" stroke="#ff00ff">78.6%</text>
<text x="130.7" y="25" stroke="#000">=</text>
<text x="141" y="25" textLength="34" lengthAdjust="spacing" stroke="#000">21.51,</text>
<text x="178" y="25" textLength="35" lengthAdjust="spacing" fill="#999999" stroke="#999999">61.8%</text>
<text x="215.7" y="25" stroke="#000">=</text>
<text x="226" y="25" textLength="34" lengthAdjust="spacing" stroke="#000">19.04,</text>
<text x="263" y="25" textLength="25" lengthAdjust="spacing" fill="#0000ff" stroke="#0000ff">50%</text>
<text x="290.7" y="25" stroke="#000">=</text>
<text x="301" y="25" textLength="34" lengthAdjust="spacing" stroke="#000">17.05,</text>
<text x="338" y="25" textLength="35" lengthAdjust="spacing" fill="#999999" stroke="#999999">38.2%</text>
<text x="375.7" y="25" stroke="#000">=</text>
<text x="386" y="25" textLength="34" lengthAdjust="spacing" stroke="#000">15.06,</text>
<text x="423" y="25" textLength="35" lengthAdjust="spacing" fill="#ff00ff" stroke="#ff00ff">23.6%</text>
<text x="460.7" y="25" stroke="#000">=</text>
<text x="471" y="25" textLength="34" lengthAdjust="spacing" stroke="#000">12.22,</text>
<text x="508" y="25" textLength="18" lengthAdjust="spacing" fill="#009900" stroke="#009900">0%</text>
<text x="528.7" y="25" stroke="#000">=</text>
<text x="539" y="25" textLength="24" lengthAdjust="spacing" stroke="#000">8.61</text>
<text x="10" y="325" stroke="#000">HODU</text>
<text x="49.2" y="325" stroke="#000">-</text>
<text x="56.5" y="325" fill="#808000" stroke="#808000">ShortPds</text>
<text x="109.8" y="325" stroke="#000">=</text>
<text x="120.4" y="325" textLength="38" lengthAdjust="spacing" stroke="#000">-34.44,</text>
<text x="162" y="325" fill="#808000" stroke="#808000">ShortPds</text>
<text x="215.1" y="325" stroke="#000">=</text>
<text x="225.4" y="325" textLength="38" lengthAdjust="spacing" stroke="#000">-23.67,</text>
<text x="266.6" y="325" fill="#0000ff" stroke="#0000ff">LongPds</text>
<text x="319.3" y="325" stroke="#000">=</text>
<text x="329.4" y="325" textLength="38" lengthAdjust="spacing" stroke="#000">-42.44,</text>
<text x="370.4" y="325" fill="#0000ff" stroke="#0000ff">LongPds</text>
<text x="423.1" y="325" stroke="#000">=</text>
<text x="433" y="325" textLength="35" lengthAdjust="spacing" stroke="#000">-30.18</text>
<text x="10" y="429" stroke="#000">HODU</text>
<text x="49.2" y="429" stroke="#000">-</text>
<text x="56.3" y="429" stroke="#000">Daily</text>
<text x="86" y="429" textLength="64" lengthAdjust="spacing" stroke="#000">2026-02-06</text>
<text x="152.5" y="429" stroke="#000">Open</text>
<text x="186" y="429" textLength="27" lengthAdjust="spacing" stroke="#000">9.93,</text>
<text x="212.5" y="429" stroke="#000">Hi</text>
<text x="228.4" y="429" textLength="27" lengthAdjust="spacing" stroke="#000">11.5,</text>
<text x="255" y="429" stroke="#000">Lo</text>
<text x="272.6" y="429" textLength="27" lengthAdjust="spacing" stroke="#000">9.92,</text>
<text x="302.6" y="429" stroke="#000">Close</text>
<text x="338" y="429" textLength="45" lengthAdjust="spacing" stroke="#000">11.1762</text>
<text x="386" y="429" textLength="43" lengthAdjust="spacing" stroke="#000">(27.6%)</text>
<text x="10.5" y="443" stroke="#000">Vol</text>
<text x="29.8" y="443" textLength="55" lengthAdjust="spacing" stroke="#000">8,714,300</text>
<text x="88.5" y="443" fill="#ff0000" stroke="#ff0000">graph8</text>
<text x="129.7" y="443" stroke="#000">=</text>
<text x="140.6" y="443" textLength="34" lengthAdjust="spacing" stroke="#000">24.70,</text>
<text x="177.3" y="443" fill="#009900" stroke="#009900">graph9</text>
<text x="218.5" y="443" stroke="#000">=</text>
<text x="228.5" y="443" textLength="24" lengthAdjust="spacing" stroke="#000">9.78</text>
<text x="776" y="28" text-anchor="end" stroke="#000" xml:space="preserve">35</text>
<text x="776" y="79" text-anchor="end" stroke="#000" xml:space="preserve">30</text>
<text x="776" y="130" text-anchor="end" stroke="#000" xml:space="preserve">25</text>
<text x="776" y="181" text-anchor="end" stroke="#000" xml:space="preserve">20</text>
<text x="776" y="232" text-anchor="end" stroke="#000" xml:space="preserve">15</text>
<text x="776" y="282" text-anchor="end" stroke="#000" xml:space="preserve">10</text>
<text x="776" y="339" text-anchor="end" stroke="#000" xml:space="preserve">0</text>
<text x="776" y="357" text-anchor="end" stroke="#000" xml:space="preserve">-10</text>
<text x="776" y="375" text-anchor="end" stroke="#000" xml:space="preserve">-20</text>
<text x="776" y="393" text-anchor="end" stroke="#000" xml:space="preserve">-30</text>
<text x="776" y="411" text-anchor="end" stroke="#000" xml:space="preserve">-40</text>
<text x="776" y="435" text-anchor="end" stroke="#000" xml:space="preserve">35</text>
<text x="776" y="491" text-anchor="end" stroke="#000" xml:space="preserve">30</text>
<text x="776" y="547" text-anchor="end" stroke="#000" xml:space="preserve">25</text>
<text x="776" y="603" text-anchor="end" stroke="#000" xml:space="preserve">20</text>
<text x="776" y="659" text-anchor="end" stroke="#000" xml:space="preserve">15</text>
<text x="776" y="715" text-anchor="end" stroke="#000" xml:space="preserve">10</text>
<text x="9" y="310" textLength="56.5" lengthAdjust="spacing" stroke="#000" xml:space="preserve">November</text>
<text x="99.5" y="310" textLength="57" lengthAdjust="spacing" stroke="#000" xml:space="preserve">December</text>
<text x="385" y="310" textLength="28" lengthAdjust="spacing" stroke="#000" xml:space="preserve">2026</text>
<text x="645" y="310" textLength="49" lengthAdjust="spacing" stroke="#000" xml:space="preserve">February</text>
<text x="9" y="743" textLength="56.5" lengthAdjust="spacing" stroke="#000" xml:space="preserve">November</text>
<text x="99.5" y="743" textLength="57" lengthAdjust="spacing" stroke="#000" xml:space="preserve">December</text>
<text x="385" y="743" textLength="28" lengthAdjust="spacing" stroke="#000" xml:space="preserve">2026</text>
<text x="645" y="743" textLength="49" lengthAdjust="spacing" stroke="#000" xml:space="preserve">February</text>
</g>
</svg>
</body></html>
